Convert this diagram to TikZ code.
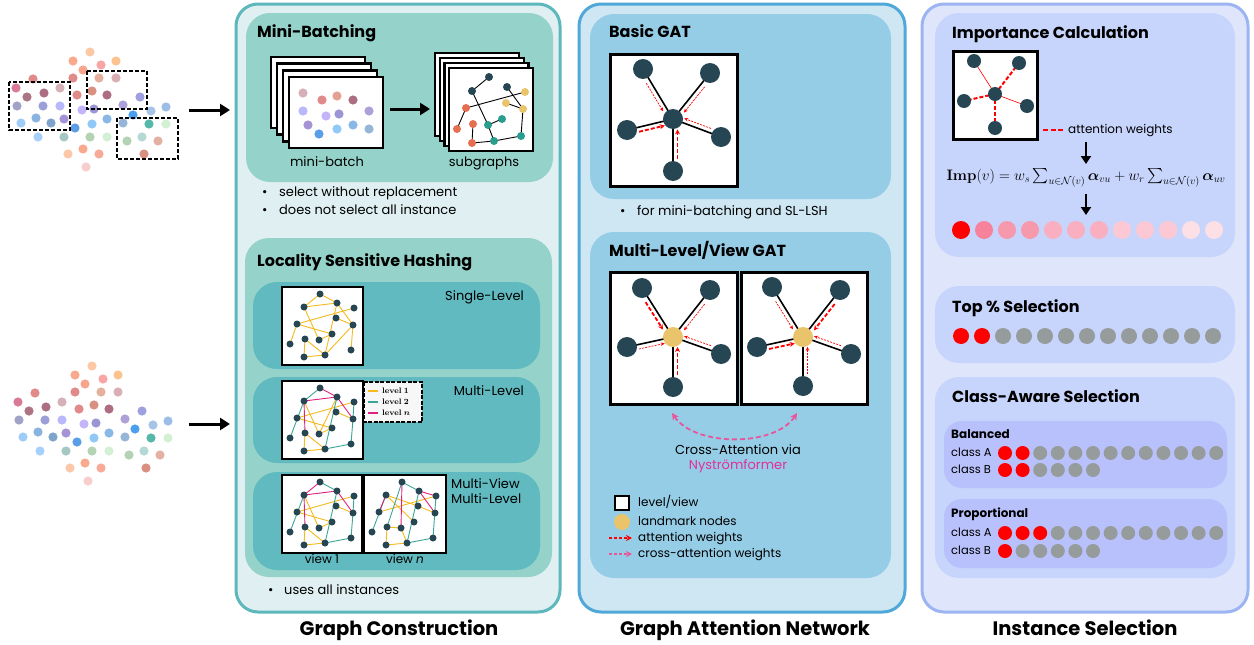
\documentclass[tikz,border=0pt]{standalone}
\usepackage{amsmath}
\usepackage{bm}
\usepackage{graphicx}
\usepackage[no-math]{fontspec}
\setmainfont{Poppins}
\usetikzlibrary{calc,arrows.meta}

\definecolor{gcB}{HTML}{5DB8BD}
\definecolor{gcF}{HTML}{E0F0F2}
\definecolor{gcI}{HTML}{94D2CA}
\definecolor{gcR}{HTML}{60BAC0}
\definecolor{gaB}{HTML}{4FA8D8}
\definecolor{gaF}{HTML}{CFE6F3}
\definecolor{gaI}{HTML}{95CDE7}
\definecolor{isB}{HTML}{9DB4F2}
\definecolor{isF}{HTML}{DFE6FB}
\definecolor{isI}{HTML}{C7D4FB}
\definecolor{isS}{HTML}{B8C1FB}
\definecolor{nodeC}{HTML}{264653}
\definecolor{landC}{HTML}{E9C46A}
\definecolor{yelE}{HTML}{F4BA1E}
\definecolor{tealE}{HTML}{3AA796}
\definecolor{magE}{HTML}{E0207F}
\definecolor{pinkA}{HTML}{E8559B}
\definecolor{nysC}{HTML}{E0309A}
\definecolor{grayC}{HTML}{969C9C}
\definecolor{sgOr}{HTML}{E76F51}
\definecolor{sgTe}{HTML}{2A9D8F}
\definecolor{sgYe}{HTML}{E9C46A}

\tikzset{
 panel/.style={rounded corners=22pt, line width=3pt},
 inbox/.style={rounded corners=24pt},
 gframe/.style={draw=black, line width=2.4pt, fill=white},
 ttl/.style={anchor=west, font=\fontsize{16}{19}\selectfont\bfseries, inner sep=0, text height=0.72em, text depth=0pt},
 bigttl/.style={font=\fontsize{19.5}{23}\selectfont\bfseries, inner sep=0, text height=0.72em, text depth=0pt},
 txt/.style={font=\fontsize{13}{15}\selectfont, inner sep=0, text height=0.72em, text depth=0pt},
 bul/.style={txt, anchor=west},
 small/.style={font=\fontsize{12}{14}\selectfont, inner sep=0, text height=0.72em, text depth=0pt, anchor=west},
 cls/.style={font=\fontsize{11.5}{13}\selectfont, inner sep=0, text height=0.72em, text depth=0pt, anchor=west},
 gn/.style={circle, fill=nodeC, inner sep=0, minimum size=20pt},
 ln/.style={circle, fill=landC, inner sep=0, minimum size=20pt},
 sn/.style={circle, fill=nodeC, inner sep=0, minimum size=7pt},
 sgn/.style={circle, inner sep=0, minimum size=8pt},
 gedge/.style={line width=1.6pt, black},
 attnthin/.style={red, line width=0.7pt, dash pattern=on 2pt off 1.2pt, -{Stealth[length=4pt,width=3.5pt]}},
 attnthick/.style={red, line width=1.8pt, dash pattern=on 4pt off 2pt, -{Stealth[length=5pt,width=5pt]}},
 bigarrow/.style={line width=3pt, -{Triangle[length=10pt,width=12pt]}},
 downarrow/.style={line width=2.4pt, -{Triangle[length=8pt,width=10pt]}},
 ye/.style={yelE, line width=0.9pt},
 te/.style={tealE, line width=0.9pt},
 me/.style={magE, line width=0.9pt},
 cdot/.style={circle, inner sep=0},
}

\newcommand\scatterdots[2]{%
 \foreach \px/\py/\pc in {90/52/FDC9A5,73/61/F9A98C,101/65/F9A5A5,116/61/FCC38E,83/70/F7A68E,
 33/79/E08A8A,73/78/E08A8A,99/78/E4B09D,116/78/D9AEB5,16/88/D97B96,44/93/AD6E82,60/88/D6B0B8,
 27/97/AD7584,77/95/E08A8A,92/91/D99080,107/95/AD6E82,140/97/9EA0E0,17/106/A0A3C6,43/106/9A9FD8,
 60/106/B8B8FA,82/110/C4B4FA,94/109/9A96D6,123/105/AEA0D8,151/111/A5C4E6,166/107/9CBDE6,
 133/115/4AA0F0,21/123/9FCDFA,36/118/8AB4E0,51/123/7FA4CC,64/119/A593D6,75/128/5A9EE6,
 92/124/90C8F8,107/119/8AB8E6,123/123/95B6D6,149/124/55B8A8,166/124/D2F0D2,38/137/A6D0FA,
 64/137/A6C8C4,90/137/B4D2B4,107/137/D4F0D4,127/141/B4D2B4,142/137/B4D8D4,158/141/E4B0A4,
 68/154/FCC8A8,83/149/F9A98C,99/154/F9A998,144/154/D99080,86/167/F7CDCD}
 {\edef\tmpdef{\noexpand\definecolor{tmpc}{HTML}{\pc}}\tmpdef
  \fill[tmpc] ({\px+#1},{\py+#2}) circle (4.6);}%
}

\newcommand\lshcoords[3]{%
 \foreach \nm/\xx/\yy in {1/38/7,2/22/20,3/55/16,4/72/21,5/54/31,6/71/38,7/15/37,8/8/57,
 9/23/52,10/37/53,11/50/47,12/69/63,13/22/70,14/43/68}
 {\coordinate (#1\nm) at ({#2+\xx},{#3+\yy});}%
}
\newcommand\lshnodes[1]{\foreach \nm in {1,...,14}{\node[sn] (#1n\nm) at (#1\nm) {};}}
\newcommand\lshedges[3]{\foreach \ea/\eb in {#3}{\draw[#2] (#1\ea) -- (#1\eb);}}
\newcommand\attarrow[4]{\draw[#1] ($(#2)!0.24!(#3)!4.5pt!#4:(#3)$) -- ($(#2)!0.8!(#3)!4.5pt!#4:(#3)$);}

\begin{document}
\begin{tikzpicture}[x=1pt,y=-1pt]
\useasboundingbox (0,0) rectangle (1254,645);
\fill[white] (0,0) rectangle (1254,645);

% ---------- outer panels ----------
\draw[panel, draw=gcB, fill=gcF] (236,4) rectangle (560,612);
\draw[panel, draw=gaB, fill=gaF] (579,4) rectangle (905,612);
\draw[panel, draw=isB, fill=isF] (922,4) rectangle (1248,612);

% ---------- inner boxes ----------
\fill[gcI, inbox] (246,13) rectangle (553,182);
\fill[gcI, inbox] (245,238) rectangle (552,577);
\fill[gcR, inbox] (253,282) rectangle (540,369);
\fill[gcR, inbox] (253,377) rectangle (540,463);
\fill[gcR, inbox] (253,472) rectangle (540,570);
\fill[gaI, inbox] (590,14) rectangle (891,199);
\fill[gaI, inbox] (590,232) rectangle (891,578);
\fill[isI, inbox] (935,13) rectangle (1235,257);
\fill[isI, inbox] (935,286) rectangle (1235,363);
\fill[isI, inbox] (935,377) rectangle (1235,578);
\fill[isS, rounded corners=18pt] (944,421) rectangle (1227,488);
\fill[isS, rounded corners=18pt] (944,499) rectangle (1227,568);

% ---------- left scatter plots ----------
\scatterdots{0}{0}
\scatterdots{2}{314}
\draw[black, line width=1.8pt, dash pattern=on 4pt off 2pt] (9,82) rectangle (70,130);
\draw[black, line width=1.8pt, dash pattern=on 4pt off 2pt] (87,71) rectangle (147,109);
\draw[black, line width=1.8pt, dash pattern=on 4pt off 2pt] (117,118) rectangle (178,159);
\coordinate (la1) at (189,110); \coordinate (la2) at (230,110);
\coordinate (lb1) at (189,424); \coordinate (lb2) at (230,424);
\draw[bigarrow] (la1) -- (la2);
\draw[bigarrow] (lb1) -- (lb2);

% ---------- Mini-Batching ----------
\node[ttl] (tmb) at (257,34) {Mini-Batching};
\foreach \k in {0,...,3} \draw[gframe] ({271+6*\k},{57+6.67*\k}) rectangle +(94,71);
\foreach \px/\py/\pc in {303/93/D6B0B8,322/100/E08A8A,337/96/E4A090,353/100/AD6E82,303/111/B8B8FA,
 326/116/C4B4FA,339/114/9A96D6,369/111/AEA0D8,308/125/A593D6,319/134/5A9EE6,337/129/90C8F8,
 353/125/8AB8E6,369/129/95B6D6}
 {\edef\tmpdef{\noexpand\definecolor{tmpc}{HTML}{\pc}}\tmpdef\fill[tmpc] (\px,\py) circle (4.6);}
\coordinate (mba) at (390,109); \coordinate (mbb) at (430,109);
\draw[bigarrow] (mba) -- (mbb);
\foreach \k in {0,...,3} \draw[gframe] ({435+4.7*\k},{53+5*\k}) rectangle +(84,83);
\foreach \nm/\px/\py in {1/489/77,2/472/91,3/507/87,4/525/92,5/506/103,6/523/109,7/466/108,
 8/457/129,9/473/124,10/472/143,11/488/125,12/502/119,13/494/141,14/521/136}
 {\coordinate (sg\nm) at (\px,\py);}
\foreach \ea/\eb in {1/2,2/11,11/13,3/6,7/4,5/6,6/14,7/8,9/10,10/13,13/14,11/12}
 {\draw[black, line width=0.9pt] (sg\ea) -- (sg\eb);}
\foreach \nm in {1,2,3} \node[sgn, fill=nodeC] (sgn\nm) at (sg\nm) {};
\foreach \nm in {4,5,6} \node[sgn, fill=sgYe] (sgn\nm) at (sg\nm) {};
\foreach \nm in {7,8,9,10} \node[sgn, fill=sgOr] (sgn\nm) at (sg\nm) {};
\foreach \nm in {11,12,13,14} \node[sgn, fill=sgTe] (sgn\nm) at (sg\nm) {};
\node[txt] (lmb) at (327,163) {mini-batch};
\node[txt] (lsg) at (484,163) {subgraphs};
\node[bul] (b1d) at (262,193) {\textbullet};
\node[bul] (b1) at (279,193) {select without replacement};
\node[bul] (b2d) at (262,211) {\textbullet};
\node[bul] (b2) at (279,211) {does not select all instance};

% ---------- LSH ----------
\node[ttl] (tlsh) at (257,263) {Locality Sensitive Hashing};
\draw[gframe, line width=2.2pt] (282,287) rectangle (363,365);
\draw[gframe, line width=2.2pt] (282,381) rectangle (363,459);
\draw[gframe, line width=2.2pt] (282,475) rectangle (362,553);
\draw[gframe, line width=2.2pt] (364,475) rectangle (446,553);

\lshcoords{s}{282}{287}
\lshedges{s}{ye}{1/3,2/1,2/3,2/10,3/6,3/14,7/4,7/11,7/8,9/14,9/13,13/14,14/6,6/12,5/6,10/11}
\lshnodes{s}

\lshcoords{m}{282}{381}
\lshedges{m}{ye}{7/4,7/11,9/14,9/13,13/14,10/11,2/10,5/6,3/10}
\lshedges{m}{te}{2/8,3/14,4/6,6/12,14/12,1/2}
\lshedges{m}{me}{1/3,2/3,2/9,3/6}
\lshnodes{m}

\lshcoords{a}{282}{475}
\lshedges{a}{ye}{7/4,7/11,9/14,9/13,13/14,10/11,2/10,5/6}
\lshedges{a}{te}{2/8,3/14,4/6,6/12,14/12,1/3}
\lshedges{a}{me}{1/2,2/3,2/9,3/6}
\lshnodes{a}

\lshcoords{b}{364}{475}
\lshedges{b}{ye}{2/11,7/4,9/13,13/14,9/10,5/6,10/14,2/5}
\lshedges{b}{te}{1/3,3/14,4/12,2/8,14/12,1/9}
\lshedges{b}{me}{1/10,3/4,2/7,3/6}
\lshnodes{b}

% legend of levels
\draw[black, line width=2pt, fill=white!97!black, dash pattern=on 4pt off 1.5pt] (364,382) rectangle (422,422);
\foreach \yy/\cc/\tt/\nn in {391/yelE/{$\mathbf{level\ 1}$}/l1,402/tealE/{$\mathbf{level\ 2}$}/l2,413/magE/{$\mathbf{level}\ \bm{n}$}/l3}{
 \coordinate (\nn a) at (368,\yy); \coordinate (\nn b) at (378,\yy);
 \draw[\cc, line width=1.2pt] (\nn a) -- (\nn b);
 \node[anchor=west, inner sep=0, font=\fontsize{8.5}{9}\selectfont] (\nn t) at (382,\yy) {\tt};
}

\node[txt, anchor=east] (lsl) at (524,297) {Single-Level};
\node[txt, anchor=east] (lml) at (524,392) {Multi-Level};
\node[anchor=north west, align=left, font=\fontsize{13}{15.5}\selectfont, inner sep=0] (lmv) at (451,478) {Multi-View\\Multi-Level};
\node[small, anchor=center] (lv1) at (322,560) {view 1};
\node[small, anchor=center] (lvn) at (405,560) {view \textit{n}};
\node[bul] (b3d) at (268,591) {\textbullet};
\node[bul] (b3) at (284,591) {uses all instances};

% ---------- Basic GAT ----------
\node[ttl] (tbg) at (609,34) {Basic GAT};
\draw[gframe, line width=3pt] (610,54) rectangle (737,186);
\coordinate (btl) at (643,69); \coordinate (btr) at (710,73); \coordinate (bc) at (673,119);
\coordinate (bl) at (627,130); \coordinate (br) at (721,137); \coordinate (bb) at (673,171);
\foreach \p in {btl,btr,bl,br,bb} \draw[gedge] (bc) -- (\p);
\attarrow{attnthin}{btl}{bc}{-90}
\attarrow{attnthin}{btr}{bc}{90}
\attarrow{attnthick}{bl}{bc}{-90}
\attarrow{attnthin}{br}{bc}{-90}
\attarrow{attnthick}{bb}{bc}{-90}
\foreach \p in {btl,btr,bc,bl,br,bb} \node[gn] (n\p) at (\p) {};
\node[bul] (b4d) at (620,212) {\textbullet};
\node[bul] (b4) at (637,212) {for mini-batching and SL-LSH};

% ---------- Multi-Level/View GAT ----------
\node[ttl] (tmg) at (609,253) {Multi-Level/View GAT};
\draw[gframe, line width=3pt] (610,272) rectangle (737,404);
\draw[gframe, line width=3pt] (741,272) rectangle (867,404);
\coordinate (atl) at (642,288); \coordinate (atr) at (710,290); \coordinate (ac) at (673,337);
\coordinate (al) at (627,347); \coordinate (ar) at (721,354); \coordinate (ab) at (673,387);
\coordinate (ctl) at (772,287); \coordinate (ctr) at (840,290); \coordinate (cc) at (803,337);
\coordinate (cl) at (757,347); \coordinate (cr) at (851,354); \coordinate (cb) at (803,386);
\foreach \p in {atl,atr,al,ar,ab} \draw[gedge] (ac) -- (\p);
\foreach \p in {ctl,ctr,cl,cr,cb} \draw[gedge] (cc) -- (\p);
\attarrow{attnthick}{atl}{ac}{-90}
\attarrow{attnthin}{atr}{ac}{90}
\attarrow{attnthin}{al}{ac}{-90}
\attarrow{attnthin}{ar}{ac}{-90}
\attarrow{attnthick}{ab}{ac}{-90}
\attarrow{attnthin}{ctl}{cc}{-90}
\attarrow{attnthick}{ctr}{cc}{90}
\attarrow{attnthick}{cl}{cc}{-90}
\attarrow{attnthin}{cr}{cc}{-90}
\attarrow{attnthin}{cb}{cc}{-90}
\foreach \p in {atl,atr,al,ar,ab,ctl,ctr,cl,cr,cb} \node[gn] (n\p) at (\p) {};
\node[ln] (nac) at (ac) {};
\node[ln] (ncc) at (cc) {};
\coordinate (ca1) at (672,413); \coordinate (ca2) at (797,413);
\draw[pinkA, line width=1.8pt, dash pattern=on 5pt off 3pt, {Stealth[length=7pt,width=7pt]}-{Stealth[length=7pt,width=7pt]}]
 (ca1) .. controls (695,447) and (775,447) .. (ca2);
\node[txt] (tca) at (738,451) {Cross-Attention via};
\node[txt, text=nysC] (tny) at (738,466) {Nyströmformer};

% legend
\node[draw=black, line width=2pt, fill=white, minimum size=14pt, inner sep=0] (lgsq) at (622,503) {};
\node[circle, fill=landC, minimum size=16pt, inner sep=0] (lgci) at (622,522) {};
\coordinate (lga1) at (609,538); \coordinate (lga2) at (632,538);
\coordinate (lgb1) at (609,554); \coordinate (lgb2) at (632,554);
\draw[red, line width=1.3pt, dash pattern=on 3pt off 2pt, -{Stealth[length=6pt,width=6pt]}] (lga1) -- (lga2);
\draw[pinkA, line width=1.3pt, dash pattern=on 3pt off 2pt, -{Stealth[length=6pt,width=6pt]}] (lgb1) -- (lgb2);
\node[small] (lgt1) at (638,503) {level/view};
\node[small] (lgt2) at (638,522) {landmark nodes};
\node[small] (lgt3) at (638,538) {attention weights};
\node[small] (lgt4) at (638,554) {cross-attention weights};

% ---------- Importance Calculation ----------
\node[ttl] (tic) at (952,35) {Importance Calculation};
\draw[gframe, line width=3pt] (953,51) rectangle (1037,139);
\coordinate (itl) at (974,61); \coordinate (itr) at (1019,63); \coordinate (ic) at (995,94);
\coordinate (il) at (964,101); \coordinate (ir) at (1027,106); \coordinate (ib) at (995,128);
\draw[red, line width=0.6pt] (ic) -- (itl);
\draw[red, line width=0.6pt] (ic) -- (ir);
\foreach \p in {itr,il,ib} \draw[red, line width=2pt, dash pattern=on 4pt off 2pt] (ic) -- (\p);
\foreach \p in {itl,itr,ic,il,ir,ib} \node[gn, minimum size=14pt] (n\p) at (\p) {};
\coordinate (iwa) at (1043,130); \coordinate (iwb) at (1063,130);
\draw[red, line width=2pt, dash pattern=on 5pt off 2.5pt] (iwa) -- (iwb);
\node[small] (iwt) at (1068,130) {attention weights};
\node[font=\fontsize{17.28}{20}\selectfont, inner sep=0] (imp) at (1086,178)
 {\scalebox{0.875}{$\mathbf{Imp}(v) = w_s \sum_{u\in\mathcal{N}(v)} \bm{\alpha}_{vu} + w_r \sum_{u\in\mathcal{N}(v)} \bm{\alpha}_{uv}$}};
\coordinate (da1) at (1086,142); \coordinate (da2) at (1086,164);
\coordinate (db1) at (1086,194); \coordinate (db2) at (1086,215);
\draw[downarrow] (da1) -- (da2);
\draw[downarrow] (db1) -- (db2);
\foreach \i/\pc in {1/FF0000,2/F7829B,3/F799AD,4/F799AD,5/F9AFC0,6/F9AFC0,7/F9AFC0,8/FBC8D4,9/FBC8D4,10/FBC8D4,11/FDE0E6,12/FDE0E6}
 {\edef\tmpdef{\noexpand\definecolor{tmpc}{HTML}{\pc}}\tmpdef
  \node[cdot, fill=tmpc, minimum size=18pt] (imp\i) at ({961+23*(\i-1)},230) {};}

% ---------- Top % Selection ----------
\node[ttl] (tts) at (952,309) {Top \% Selection};
\foreach \i in {1,...,13}{
 \ifnum\i<3 \def\cc{red}\else\def\cc{grayC}\fi
 \node[cdot, fill=\cc, minimum size=16pt] (ts\i) at ({961+21*(\i-1)},336) {};}

% ---------- Class-Aware Selection ----------
\node[ttl] (tca2) at (952,399) {Class-Aware Selection};
\node[cls, font=\fontsize{12}{14}\selectfont\bfseries] (tbal) at (951,435) {Balanced};
\node[cls] (tbA) at (951,453) {class A};
\node[cls] (tbB) at (951,470) {class B};
\node[cls, font=\fontsize{12}{14}\selectfont\bfseries] (tpro) at (951,514) {Proportional};
\node[cls] (tpA) at (951,533) {class A};
\node[cls] (tpB) at (951,551) {class B};
\foreach \row/\yy/\nn/\rr in {ba/453/13/2,bb/470/6/2,pa/533/13/3,pb/551/6/1}{
 \foreach \i in {1,...,\nn}{
  \ifnum\i>\rr \def\cc{grayC}\else\def\cc{red}\fi
  \node[cdot, fill=\cc, minimum size=14pt] (\row\i) at ({1005+17.6*(\i-1)},\yy) {};}}

% ---------- bottom titles ----------
\node[bigttl] (bt1) at (399,632) {Graph Construction};
\node[bigttl] (bt2) at (745,632) {Graph Attention Network};
\node[bigttl] (bt3) at (1085,632) {Instance Selection};
\end{tikzpicture}
\end{document}
